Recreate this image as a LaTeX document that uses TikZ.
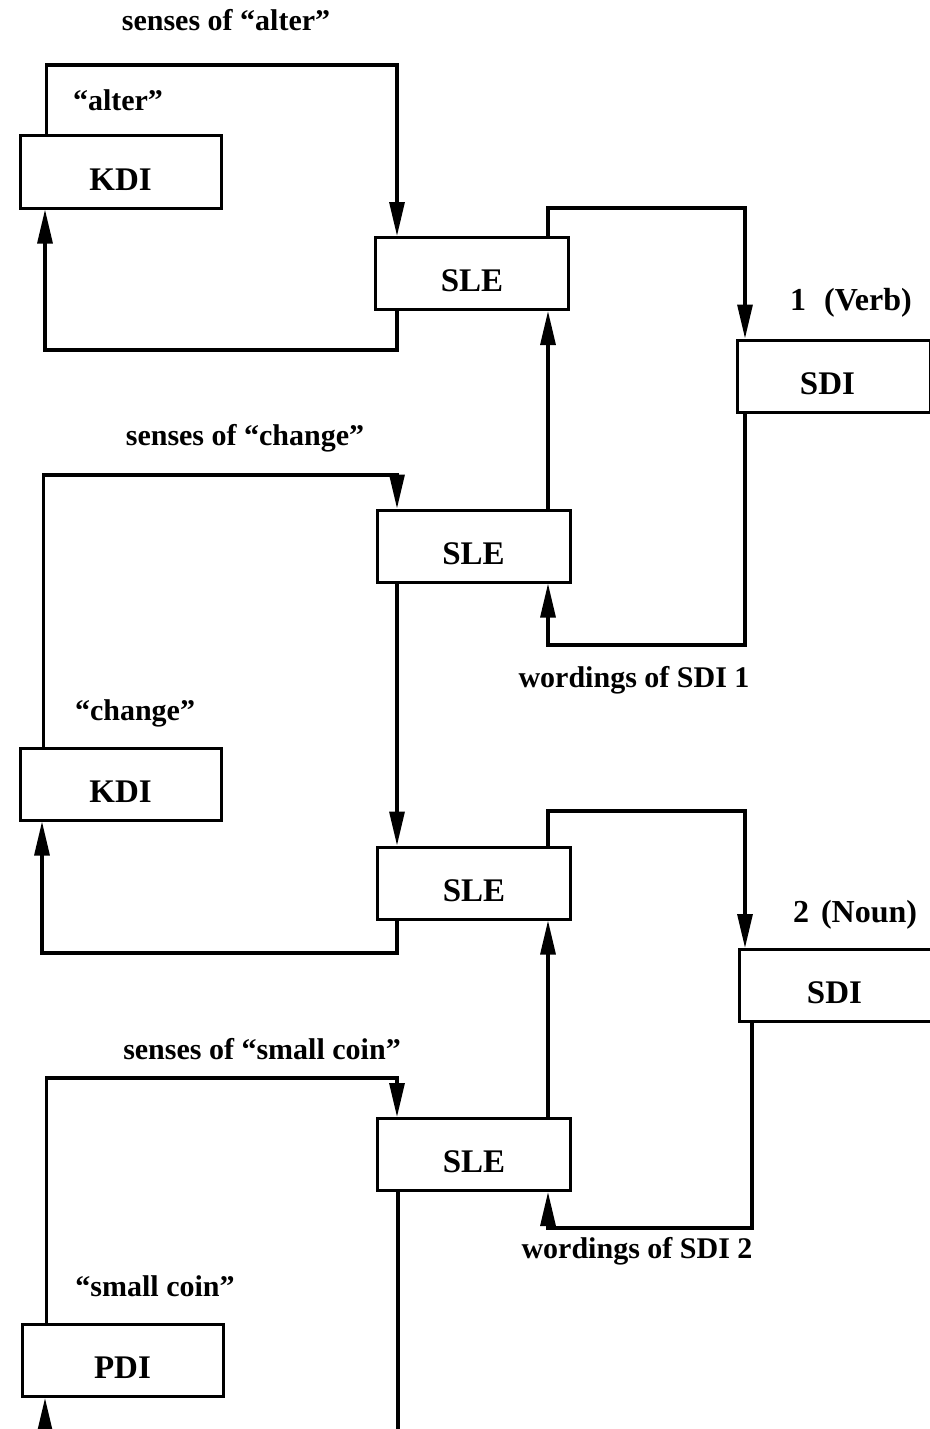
\documentclass[tikz,border=0pt]{standalone}
\usepackage{fontspec}
\setmainfont{Liberation Serif}
\usetikzlibrary{arrows.meta,calc}
\tikzset{
  box/.style={draw, line width=1.5pt, minimum height=36pt, inner sep=0pt, text height=18pt, text depth=0pt, font=\fontsize{16.5}{19}\selectfont\bfseries},
  lbox/.style={box, minimum width=100.5pt},
  sbox/.style={box, minimum width=96.5pt},
  dbox/.style={box, minimum width=96.5pt},
  lbl/.style={font=\fontsize{15}{18}\selectfont\bfseries, inner sep=0pt},
  wire/.style={line width=1.6pt},
  arr/.style={wire, -{Triangle[length=17pt,width=7.5pt]}},
}
\begin{document}
\begin{tikzpicture}[x=0.5pt,y=-0.5pt]
\useasboundingbox (0,0) rectangle (930,1429);

% boxes
\node[lbox] (kdi1) at (120.5,172) {KDI};
\node[sbox] (sle1) at (472,273.5) {SLE};
\node[dbox, anchor=west] (sdi1) at (736,376) {\hspace*{-6.5pt}SDI};
\node[sbox] (sle2) at (473.5,546) {SLE};
\node[lbox] (kdi2) at (120.5,784) {KDI};
\node[sbox] (sle3) at (474,883) {SLE};
\node[dbox, anchor=west] (sdi2) at (738,985.5) {\hspace*{-1.5pt}SDI};
\node[sbox] (sle4) at (474,1154.5) {SLE};
\node[lbox] (pdi) at (122.5,1360.5) {PDI};

% labels
\node[lbl] (l1) at (226,20) {senses of ``alter''};
\node[lbl] (l2) at (118,100) {``alter''};
\node[lbl, font=\fontsize{16}{19}\selectfont\bfseries] (l3) at (851,303) {1\hspace{9pt}(Verb)};
\node[lbl] (l4) at (245,438) {senses of ``change''};
\node[lbl] (l5) at (634,680) {wordings of SDI 1};
\node[lbl] (l6) at (135,713) {``change''};
\node[lbl, font=\fontsize{16}{19}\selectfont\bfseries] (l7) at (855,915) {2\hspace{6pt}(Noun)};
\node[lbl] (l8) at (262,1049) {senses of ``small coin''};
\node[lbl] (l9) at (637,1251) {wordings of SDI 2};
\node[lbl] (l10) at (155,1286) {``small coin''};

% routing coordinates
\coordinate (t1) at (397,65);
\coordinate (b1) at (45,350);
\coordinate (r1) at (745,208);
\coordinate (w1) at (548,645);
\coordinate (t2) at (397,475);
\coordinate (b2) at (42,953);
\coordinate (r2) at (745,811);
\coordinate (d2) at (752,0);
\coordinate (w2) at (548,1228);
\coordinate (t3) at (397,1078);
\coordinate (e1) at (398,1432);
\coordinate (e2) at (45,1432);

% connectors
\draw[arr] ($(kdi1.north west)+(28,0)$) |- (t1) -- (t1 |- sle1.north);
\draw[arr] (t1 |- sle1.south) |- (b1) -- (b1 |- kdi1.south);
\draw[arr] (w1 |- sle1.north) |- (r1) -- (r1 |- sdi1.north);
\draw[arr] (r1 |- sdi1.south) |- (w1) -- (w1 |- sle2.south);
\draw[arr] (w1 |- sle2.north) -- (w1 |- sle1.south);

\draw[arr] ($(kdi2.north west)+(25,0)$) |- (t2) -- (t2 |- sle2.north);
\draw[arr] (t2 |- sle2.south) -- (t2 |- sle3.north);
\draw[arr] (t2 |- sle3.south) |- (b2) -- (b2 |- kdi2.south);
\draw[arr] (w1 |- sle3.north) |- (r2) -- (r2 |- sdi2.north);
\draw[arr] (d2 |- sdi2.south) |- (w2) -- (w2 |- sle4.south);
\draw[arr] (w2 |- sle4.north) -- (w2 |- sle3.south);

\draw[arr] ($(pdi.north west)+(26,0)$) |- (t3) -- (t3 |- sle4.north);
\draw[wire] (e1 |- sle4.south) -- (e1);
\draw[arr] (e2) -- (e2 |- pdi.south);
\end{tikzpicture}
\end{document}
